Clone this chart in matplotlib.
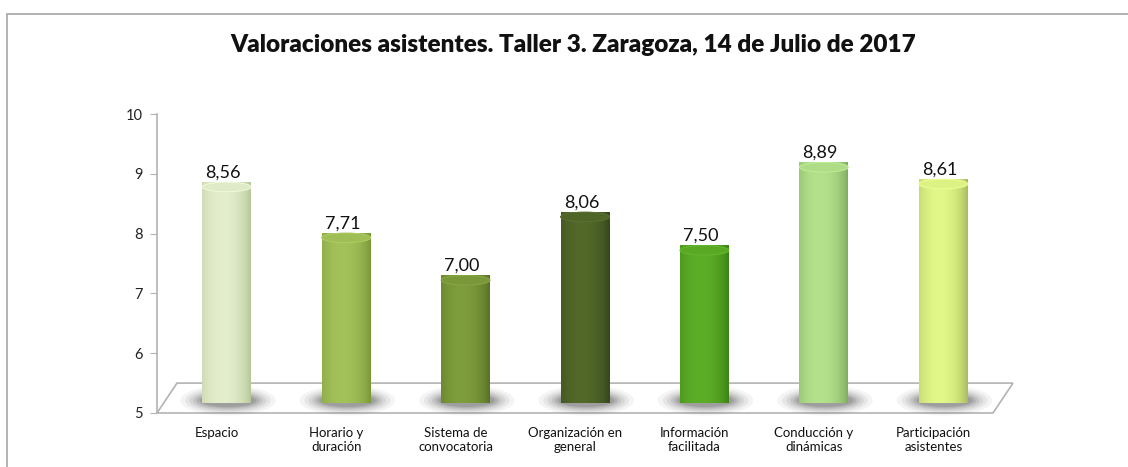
import numpy as np
import matplotlib
matplotlib.use("Agg")
import matplotlib.pyplot as plt
from matplotlib.path import Path
from matplotlib.patches import PathPatch, Ellipse, Polygon, Rectangle
from matplotlib.colors import to_rgb

# ---- data ----
categories = ["Espacio", "Horario y\nduración", "Sistema de\nconvocatoria",
              "Organización en\ngeneral", "Información\nfacilitada",
              "Conducción y\ndinámicas", "Participación\nasistentes"]
values = [8.56, 7.71, 7.00, 8.06, 7.50, 8.89, 8.61]
value_labels = ["8,56", "7,71", "7,00", "8,06", "7,50", "8,89", "8,61"]
center_colors = ["#e4eecd", "#a3c25a", "#7e9d3c", "#52692a", "#5cae27", "#b4e28c", "#e2f888"]
edge_colors = ["#b4c596", "#789536", "#576f24", "#33451a", "#3c8016", "#7ea95e", "#a5b85e"]
yticks = [5, 6, 7, 8, 9, 10]
title = "Valoraciones asistentes. Taller 3. Zaragoza, 14 de Julio de 2017"

plt.rcParams['font.family'] = ['Lato', 'DejaVu Sans']

W, H = 1128, 467
fig = plt.figure(figsize=(W / 100, H / 100), dpi=100)

# outer frame (only top and left edges visible)
fig.patches.append(Rectangle((6.5 / W, -0.2), 1.2, 1.2 - 13.5 / H,
                             transform=fig.transFigure, fill=False,
                             edgecolor="#a6a6a6", linewidth=1.2))

left, right = 157 / W, 993 / W
bottom, top = (H - 413) / H, (H - 114) / H
ax = fig.add_axes([left, bottom, right - left, top - bottom])
ax.set_xlim(-0.5, 6.5)
ax.set_ylim(5, 10)
for s in ["top", "right", "bottom"]:
    ax.spines[s].set_visible(False)
ax.spines["left"].set_color("#b3b3b3")
ax.spines["left"].set_linewidth(1.2)
ax.set_yticks(yticks)
ax.set_yticklabels([str(t) for t in yticks], fontsize=10.5, color="#222222")
ax.tick_params(axis="y", direction="out", length=5, color="#b3b3b3", pad=5)

# 3D depth (in data units)
ddx = 20 / (836 / 7)   # horizontal depth
ddy = 0.5              # vertical depth (30 px)

floor = Polygon([(-0.5, 5), (6.5, 5), (6.5 + ddx, 5 + ddy), (-0.5 + ddx, 5 + ddy)],
                closed=True, facecolor="none", edgecolor="#b3b3b3", linewidth=1.2,
                clip_on=False, zorder=1)
ax.add_patch(floor)

cat_pos = np.arange(len(categories))
xpos = cat_pos + ddx / 2
base_y = 5 + ddy / 2
off = 0.22
bw = 0.41
ery = 0.08

ax.set_xticks(cat_pos)
ax.set_xticklabels(categories, fontsize=9.5, color="#111111", linespacing=1.25, va="top")
ax.tick_params(axis="x", length=0, pad=10)

t = np.linspace(0, 1, 200)
profile = np.clip(1 - ((t - 0.42) / 0.58) ** 2, 0, 1) ** 0.8

for i, (x, v) in enumerate(zip(xpos, values)):
    ytop = v + off
    rx = bw / 2
    # soft shadow at base
    for k, a in zip([1.95, 1.75, 1.58, 1.42, 1.28, 1.15],
                    [0.05, 0.07, 0.09, 0.11, 0.13, 0.15]):
        ax.add_patch(Ellipse((x + 0.01, base_y - 0.04), bw * k, 0.36 * (k - 0.55),
                             facecolor="#383838", edgecolor="none", alpha=a,
                             zorder=2, clip_on=False))
    th_b = np.linspace(np.pi, 2 * np.pi, 60)
    th_t = np.linspace(0, np.pi, 60)
    verts = [(x - rx, ytop)]
    verts += [(x + rx * np.cos(a_), base_y + ery * np.sin(a_)) for a_ in th_b]
    verts += [(x + rx, ytop)]
    verts += [(x + rx * np.cos(a_), ytop + ery * np.sin(a_)) for a_ in th_t]
    verts += [(x - rx, ytop)]
    path = Path(verts)
    patch = PathPatch(path, facecolor="none", edgecolor="none", zorder=3, clip_on=False)
    ax.add_patch(patch)
    c0 = np.array(to_rgb(edge_colors[i]))
    c1 = np.array(to_rgb(center_colors[i]))
    img = (c0[None, :] * (1 - profile[:, None]) + c1[None, :] * profile[:, None])[None, :, :]
    im = ax.imshow(img, extent=[x - rx, x + rx, base_y - ery, ytop + ery],
                   aspect="auto", zorder=3, interpolation="bilinear", clip_on=False)
    im.set_clip_path(patch)
    topc = c1 * 0.9 + c0 * 0.1
    ax.add_patch(Ellipse((x, ytop), bw, 2 * ery, facecolor=topc,
                         edgecolor=tuple(np.clip(c1 * 1.03 + 0.02, 0, 1)), linewidth=0.7,
                         zorder=4, clip_on=False))
    ax.text(x - 0.03, ytop + ery * 1.3, value_labels[i], ha="center", va="bottom",
            fontsize=13, color="#111111", zorder=5)

ax.set_xlim(-0.5, 6.5)
ax.set_ylim(5, 10)

fig.text(573 / W, 1 - 45 / H, title, ha="center", va="center",
         fontsize=17.5, fontweight="heavy", color="#111111")

fig.savefig("out.png", dpi=100)
